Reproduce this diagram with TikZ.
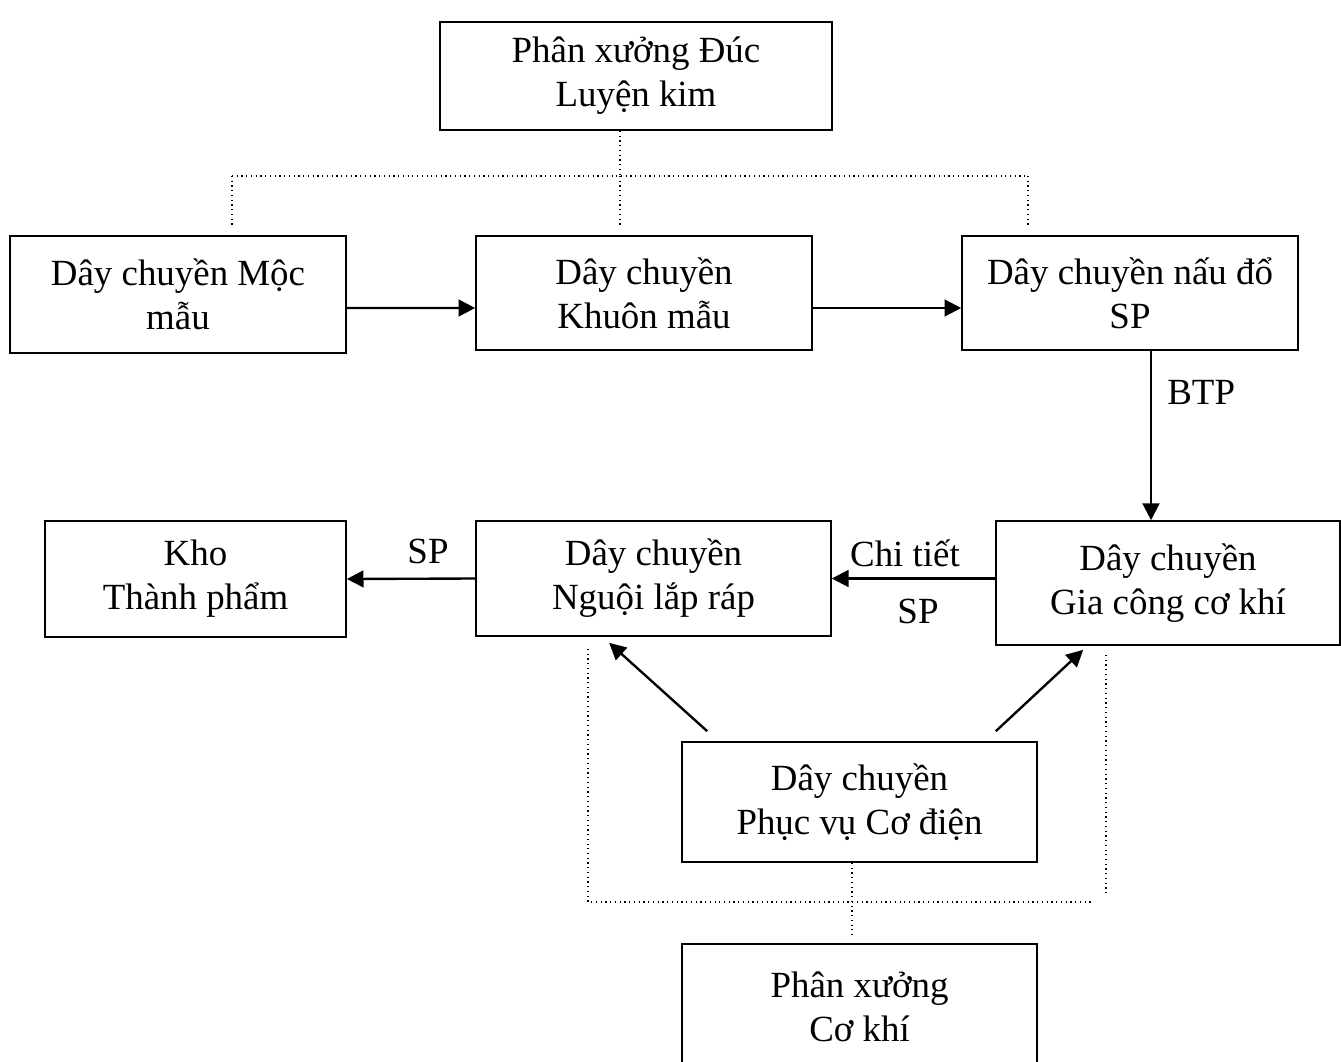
\documentclass[tikz,border=0pt]{standalone}
\usepackage{fontspec}
\setmainfont{Liberation Serif}
\usetikzlibrary{positioning, arrows.meta}

\begin{document}
\begin{tikzpicture}[x=0.02cm, y=-0.02cm,
  box/.style={draw, line width=0.95pt, align=center, inner sep=0pt, font=\fontsize{21}{25}\selectfont},
  lbl/.style={font=\fontsize{21}{25}\selectfont, inner sep=0pt},
  arr/.style={line width=1.35pt, -{Triangle[length=9.5pt, width=9.5pt]}},
  dots/.style={line width=0.7pt, dotted}]

\useasboundingbox (0,0) rectangle (1341,1061);

% boxes
\node[box, minimum width=7.84cm, minimum height=2.16cm] (duc) at (636,76) {Phân xưởng Đúc\\Luyện kim};

\node[box, minimum width=6.72cm, minimum height=2.34cm] (moc) at (178,294.5) {Dây chuyền Mộc\\mẫu};
\node[box, minimum width=6.72cm, minimum height=2.28cm] (khuon) at (644,293) {Dây chuyền\\Khuôn mẫu};
\node[box, minimum width=6.72cm, minimum height=2.28cm] (nau) at (1130,293) {Dây chuyền nấu đổ\\SP};

\node[box, minimum width=6.02cm, minimum height=2.32cm] (kho) at (195.5,579) {Kho\\Thành phẩm};
\node[box, minimum width=7.10cm, minimum height=2.30cm] (nguoi) at (653.5,578.5) {Dây chuyền\\Nguội lắp ráp};
\node[box, minimum width=6.88cm, minimum height=2.48cm] (gia) at (1168,583) {Dây chuyền\\Gia công cơ khí};

\node[box, minimum width=7.10cm, minimum height=2.40cm] (phucvu) at (859.5,802) {Dây chuyền\\Phục vụ Cơ điện};
\node[box, minimum width=7.10cm, minimum height=2.50cm] (cokhi) at (859.5,1006.5) {Phân xưởng\\Cơ khí};

% dotted links, top
\coordinate (tj) at (620,176);
\draw[dots] (tj |- duc.south) -- (tj);
\draw[dots] (232,176) -- (1028,176);
\draw[dots] (232,176) -- (232,225);
\draw[dots] (tj) -- (620,225);
\draw[dots] (1028,176) -- (1028,225);

% dotted links, bottom
\coordinate (bl) at (588,902);
\draw[dots] (588,649) -- (bl) -- (1094,902);
\draw[dots] (1106,655) -- (1106,896);
\draw[dots] ([xshift=-0.15cm]phucvu.south) -- ([xshift=-0.15cm]phucvu.south |- 0,937);

% flow arrows
\draw[arr] ([yshift=-0.27cm]moc.east) -- ([yshift=-0.3cm]khuon.west);
\draw[arr] ([yshift=-0.3cm]khuon.east) -- ([yshift=-0.3cm]nau.west);
\draw[arr] ([xshift=0.42cm]nau.south) -- ([xshift=0.42cm]nau.south |- gia.north);
\node[lbl, anchor=west] (btp) at (1167,392) {BTP};

\draw[arr] (gia.west |- nguoi.east) -- (nguoi.east);
\node[lbl] (ct) at (905,553) {Chi tiết};
\node[lbl] (sp1) at (918,611) {SP};

\draw[arr] (nguoi.west) -- (kho.east);
\node[lbl] (sp2) at (428,551) {SP};

\draw[arr] ([xshift=0.52cm, yshift=0.2cm]phucvu.north west) -- ([xshift=2.68cm, yshift=-0.12cm]nguoi.south west);
\draw[arr] ([xshift=-0.84cm, yshift=0.2cm]phucvu.north east) -- ([xshift=1.76cm, yshift=-0.08cm]gia.south west);

\end{tikzpicture}
\end{document}
